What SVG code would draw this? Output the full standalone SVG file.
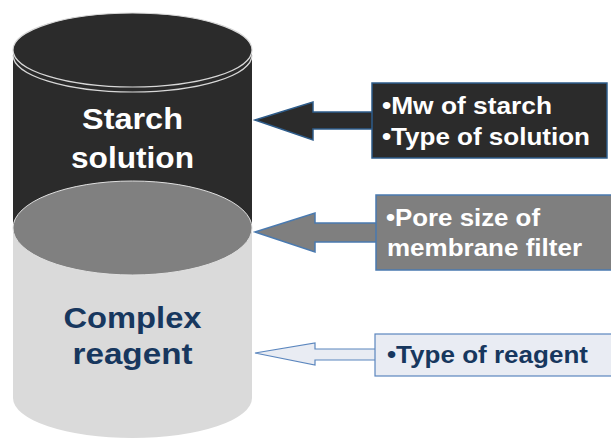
<svg xmlns="http://www.w3.org/2000/svg" width="611" height="439" viewBox="0 0 611 439">
<style>
.cyl{font-family:"Liberation Sans",Arial,sans-serif;font-weight:bold;font-size:29px;text-anchor:middle}
.lbl{font-family:"Liberation Sans",Arial,sans-serif;font-weight:bold;font-size:23px}
</style>
<rect width="611" height="439" fill="#ffffff"/>
<g id="cylinder">
  <g id="complex-reagent">
    <path d="M13,228 L13,398 A119.5,40 0 0 0 252,398 L252,228 Z" fill="#dadada"/>
    <text class="cyl" x="132.5" y="328" fill="#17375e" textLength="138" lengthAdjust="spacingAndGlyphs">Complex</text>
    <text class="cyl" x="132.5" y="364" fill="#17375e" textLength="120" lengthAdjust="spacingAndGlyphs">reagent</text>
  </g>
  <g id="starch-solution">
    <path d="M13,50 L13,228 L252,228 L252,50 Z" fill="#2b2b2b"/>
    <ellipse cx="132.5" cy="50" rx="119.5" ry="37" fill="#2b2b2b" stroke="#d8d8d8" stroke-width="1.2"/>
    <path d="M13,55 A119.5,37 0 0 0 252,55" fill="none" stroke="#d8d8d8" stroke-width="1.2"/>
    <text class="cyl" x="132.5" y="129" fill="#ffffff" textLength="101" lengthAdjust="spacingAndGlyphs">Starch</text>
    <text class="cyl" x="132.5" y="168" fill="#ffffff" textLength="123" lengthAdjust="spacingAndGlyphs">solution</text>
  </g>
  <g id="membrane-filter">
    <ellipse cx="132.5" cy="228" rx="119.5" ry="47" fill="#808080" stroke="#e0e0e0" stroke-width="1"/>
  </g>
</g>
<g id="connectors">
  <path id="arrow1" d="M255,120 L313,102 L313,112 L374,112 L374,129 L313,129 L313,140 Z" fill="#2b2b2b" stroke="#2e5c8a" stroke-width="1.5"/>
  <path id="arrow2" d="M255,232 L315,213 L315,223 L378,223 L378,242 L315,242 L315,252 Z" fill="#7f7f7f" stroke="#4a7ab0" stroke-width="1.5"/>
  <path id="arrow3" d="M255,353 L315,343 L315,349 L377,349 L377,360 L315,360 L315,365 Z" fill="#e9ecf3" stroke="#5b86be" stroke-width="1.2"/>
</g>
<g id="box1">
  <rect x="372" y="83" width="235" height="75" fill="#2b2b2b" stroke="#2e5c8a" stroke-width="1.5"/>
  <text class="lbl" x="382" y="114" fill="#ffffff" textLength="170" lengthAdjust="spacingAndGlyphs">•Mw of starch</text>
  <text class="lbl" x="382" y="145" fill="#ffffff" textLength="208" lengthAdjust="spacingAndGlyphs">•Type of solution</text>
</g>
<g id="box2">
  <rect x="376" y="195" width="240" height="75" fill="#7f7f7f" stroke="#4a7ab0" stroke-width="1.5"/>
  <text class="lbl" x="386" y="226" fill="#ffffff" textLength="154" lengthAdjust="spacingAndGlyphs">•Pore size of</text>
  <text class="lbl" x="387" y="256" fill="#ffffff" textLength="195" lengthAdjust="spacingAndGlyphs">membrane filter</text>
</g>
<g id="box3">
  <rect x="375" y="334" width="240" height="42" fill="#e9ecf3" stroke="#5b86be" stroke-width="1.2"/>
  <text class="lbl" x="387" y="363" fill="#17375e" textLength="201" lengthAdjust="spacingAndGlyphs">•Type of reagent</text>
</g>
</svg>
